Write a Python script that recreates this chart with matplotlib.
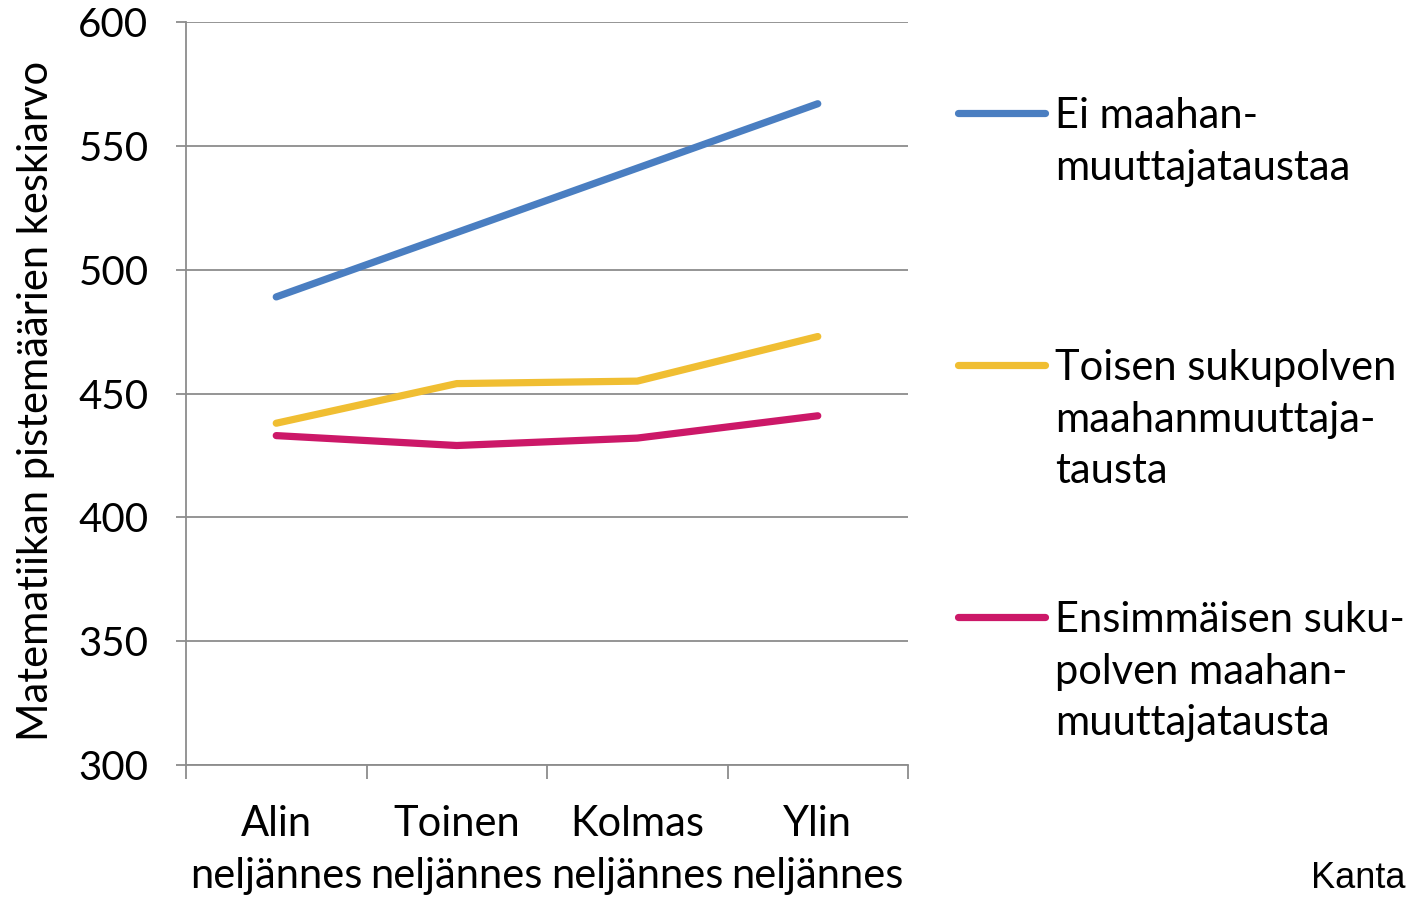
import matplotlib
matplotlib.use("Agg")
import matplotlib.pyplot as plt

categories = ["Alin\nneljännes", "Toinen\nneljännes", "Kolmas\nneljännes", "Ylin\nneljännes"]
series_names = ["Ei maahan-\nmuuttajataustaa",
                "Toisen sukupolven\nmaahanmuuttaja-\ntausta",
                "Ensimmäisen suku-\npolven maahan-\nmuuttajatausta"]
ei_maahanmuuttajataustaa = [489, 515, 541, 567]
toinen_sukupolvi = [438, 454, 455, 473]
ensimmainen_sukupolvi = [433, 429, 432, 441]
yticks = [300, 350, 400, 450, 500, 550, 600]
colors = ["#4A7EC1", "#F0BE32", "#CC1868"]

plt.rcParams['font.family'] = ['Lato', 'DejaVu Sans']
FS = 30

fig = plt.figure(figsize=(14.08, 8.98), dpi=100)
ax = fig.add_axes([0.1321, 0.1481, 0.5128, 0.8274])

x = list(range(len(categories)))
series = [ei_maahanmuuttajataustaa, toinen_sukupolvi, ensimmainen_sukupolvi]
for vals, c, name in zip(series, colors, series_names):
    ax.plot(x, vals, color=c, lw=5.2, solid_capstyle='round', label=name)

ax.set_xlim(-0.5, 3.5)
ax.set_ylim(300, 600)
ax.set_yticks(yticks)
ax.set_yticklabels([str(v) for v in yticks], fontsize=29)
ax.yaxis.grid(True, color="#8C8C8C", lw=1.3)
ax.set_axisbelow(True)
ax.tick_params(axis='y', length=7, width=1.3, color="#8C8C8C", pad=20)

ax.set_xticks([-0.5, 0.5, 1.5, 2.5, 3.5])
ax.set_xticklabels([])
ax.set_xticks(x, minor=True)
ax.set_xticklabels(categories, minor=True, fontsize=FS, linespacing=1.44)
ax.tick_params(axis='x', which='major', length=10, width=1.3, color="#8C8C8C", direction='out')
ax.tick_params(axis='x', which='minor', length=0, pad=29)

for s in ['top', 'right']:
    ax.spines[s].set_visible(False)
for s in ['left', 'bottom']:
    ax.spines[s].set_color("#8C8C8C")
    ax.spines[s].set_linewidth(1.3)

ax.set_ylabel("Matematiikan pistemäärien keskiarvo", fontsize=FS)
ax.yaxis.set_label_coords(-0.182, 0.49)

# legend drawn manually as individual entries
leg_y = [113, 365, 617]
for name, c, yy in zip(series_names, colors, leg_y):
    yf = 1 - yy / 898
    fig.add_artist(plt.Line2D([958 / 1408, 1045 / 1408], [yf, yf], color=c, lw=5.2,
                              solid_capstyle='round', transform=fig.transFigure))
    fig.text(1055 / 1408, yf + 16 / 898, name, fontsize=FS, va='top', ha='left',
             linespacing=1.44)

fig.text(1405 / 1408, 1 - 888 / 898, "Kanta", fontsize=26, ha='right', va='baseline',
         family=['Liberation Sans', 'DejaVu Sans'])

fig.savefig("out.png", dpi=100)
